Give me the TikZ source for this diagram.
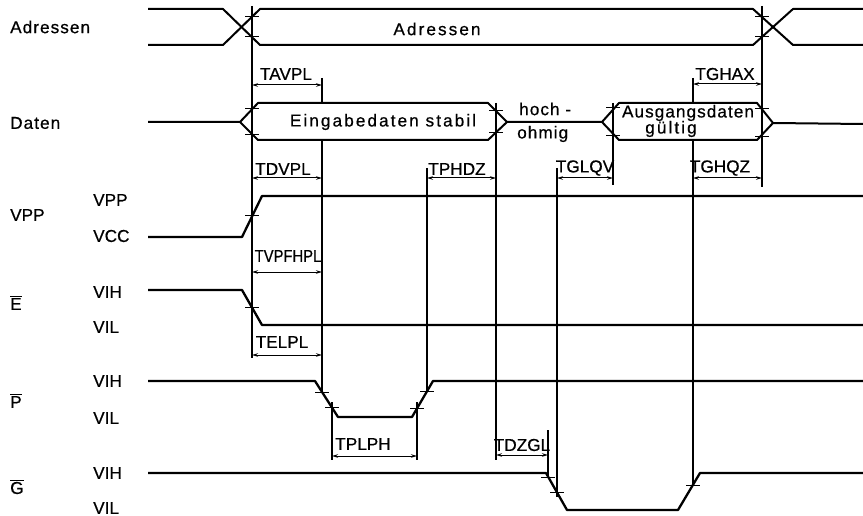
\documentclass[tikz,border=0pt]{standalone}
\usepackage{fontspec}
\usepackage{graphicx}
\setmainfont{Liberation Sans}[FakeBold=0.6]
\newfontfamily\lsA{Liberation Sans}[LetterSpace=6,FakeBold=0.6]
\newfontfamily\lsB{Liberation Sans}[LetterSpace=12,FakeBold=0.6]
\usetikzlibrary{arrows.meta}
\newcommand\tk[2]{\draw[tickline] (#1-7,#2)--(#1+7,#2);}
\begin{document}
\begin{tikzpicture}[x=1pt,y=-1pt,
  wave/.style={line width=2.3pt, line join=round},
  busline/.style={line width=2pt, line join=round},
  vline/.style={line width=1.1pt},
  tickline/.style={line width=1pt},
  dimline/.style={line width=1pt, {Stealth[length=6pt,width=3.5pt]}-{Stealth[length=6pt,width=3.5pt]}},
  lab/.style={font=\fontsize{17.2}{18}\selectfont, inner sep=0pt},
  labA/.style={font=\fontsize{17.2}{18}\selectfont\lsA, inner sep=0pt},
  labB/.style={font=\fontsize{17.2}{18}\selectfont\lsB, inner sep=0pt}]
\useasboundingbox (0,0) rectangle (863,516);

% ---------- left labels ----------
\node[labA,anchor=west] (lAdr) at (10,27) {Adressen};
\node[labA,anchor=west] (lDat) at (10,123) {Daten};
\node[lab,anchor=west] (lVPP) at (10,215) {VPP};
\node[lab,anchor=west] (lE) at (10,303) {$\overline{\mbox{E}}$};
\node[lab,anchor=west] (lP) at (10,401) {$\overline{\mbox{P}}$};
\node[lab,anchor=west] (lG) at (10,487) {$\overline{\mbox{G}}$};
\node[lab,anchor=west] (vpp) at (93,200) {VPP};
\node[lab,anchor=west] (vcc) at (93,236) {VCC};
\node[lab,anchor=west] (evih) at (93,292) {VIH};
\node[lab,anchor=west] (evil) at (93,327) {VIL};
\node[lab,anchor=west] (pvih) at (93,381) {VIH};
\node[lab,anchor=west] (pvil) at (93,418) {VIL};
\node[lab,anchor=west] (gvih) at (93,473) {VIH};
\node[lab,anchor=west] (gvil) at (93,508) {VIL};

% ---------- Adressen bus ----------
\draw[busline] (148,9)--(223,9)--(260,45)--(753,45)--(793,9)--(863,9);
\draw[busline] (148,45)--(223,45)--(260,9)--(753,9)--(793,45)--(863,45);
\node[labB] (adrbus) at (437,29) {Adressen};

% ---------- Daten bus ----------
\draw[busline] (148,122)--(240,122)--(258,103)--(488,103)--(507,122)--(602,122)--(619,103)--(757,103)--(773,123)--(863,124);
\draw[busline] (240,122)--(258,140)--(488,140)--(507,122);
\draw[busline] (602,122)--(619,140)--(757,140)--(773,123);
\node[labB] (ein) at (383,122) {Eingabedaten stabil};
\node[labA,anchor=west] (hoch) at (519,109) {hoch -};
\node[labA,anchor=west] (ohm) at (517,134) {ohmig};
\node[labA] (aus) at (688,113) {Ausgangsdaten};
\node[labB] (gue) at (671,129) {gültig};

% ---------- VPP ----------
\draw[wave] (148,237)--(242,237)--(262,196)--(863,196);
% ---------- E ----------
\draw[wave] (148,290)--(242,290)--(262,325)--(863,325);
% ---------- P ----------
\draw[wave] (148,381)--(315,381)--(338,417)--(412,417)--(433,381)--(863,381);
% ---------- G ----------
\draw[wave] (148,473)--(546,473)--(567,510)--(678,510)--(700,473)--(863,473);

% ---------- vertical reference lines ----------
\draw[vline] (252,6)--(252,358);
\draw[vline] (322,78)--(322,103);
\draw[vline] (322,140)--(322,392);
\draw[vline] (332,402)--(332,460);
\draw[vline] (417,402)--(417,460);
\draw[vline] (427,168)--(427,392);
\draw[vline] (496,103)--(496,460);
\draw[vline] (548,430)--(548,478);
\draw[vline] (557,168)--(557,497);
\draw[vline] (613,103)--(613,185);
\draw[vline] (693,78)--(693,103);
\draw[vline] (693,140)--(693,485);
\draw[vline] (762,6)--(762,187);

% ---------- ticks ----------
\tk{252}{17}\tk{252}{37}\tk{762}{17}\tk{762}{37}
\tk{252}{109}\tk{252}{135}\tk{496}{111}\tk{496}{133}
\tk{613}{108}\tk{613}{136}\tk{762}{109}\tk{762}{137}
\tk{252}{216}\tk{252}{307}
\tk{322}{392}\tk{332}{407}\tk{417}{408}\tk{427}{391}
\tk{548}{477}\tk{557}{492}\tk{693}{485}

% ---------- dimensions ----------
\node[lab] (tavpl) at (286,74) {TAVPL};
\draw[dimline] (252,85)--(322,85);
\node[lab] (tghax) at (725,74) {TGHAX};
\draw[dimline] (693,84)--(762,84);
\node[lab] (tdvpl) at (283,169) {TDVPL};
\draw[dimline] (252,178)--(322,178);
\node[lab] (tphdz) at (457,169) {TPHDZ};
\draw[dimline] (427,178)--(496,178);
\node[lab] (tglqv) at (585,168) {TGLQV};
\draw[dimline] (557,178)--(613,178);
\node[lab] (tghqz) at (720,168) {TGHQZ};
\draw[dimline] (693,178)--(762,178);
\node[lab] (tvpf) at (288,256) {\scalebox{0.86}[1]{TVPFHPL}};
\draw[dimline] (252,272)--(322,272);
\node[lab] (telpl) at (282,342) {TELPL};
\draw[dimline] (252,355)--(322,355);
\node[lab] (tplph) at (363,444) {TPLPH};
\draw[dimline] (332,456)--(417,456);
\node[lab] (tdzgl) at (522,445) {TDZGL};
\draw[dimline] (496,455)--(548,455);
\end{tikzpicture}
\end{document}
